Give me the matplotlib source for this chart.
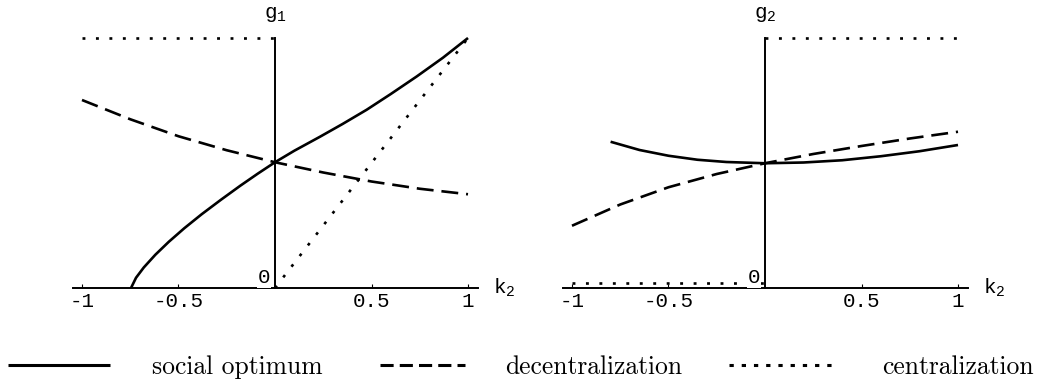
import matplotlib
matplotlib.use("Agg")
import matplotlib.pyplot as plt
from matplotlib.lines import Line2D

plt.rcParams['mathtext.fontset'] = 'custom'
plt.rcParams['mathtext.rm'] = 'Liberation Mono'
plt.rcParams['mathtext.tt'] = 'Liberation Mono'
plt.rcParams['mathtext.it'] = 'Liberation Mono'
plt.rcParams['axes.unicode_minus'] = False

# ---------------- data ----------------
tick_vals = [-1, -0.5, 0.5, 1]
tick_labels = ['-1', '-0.5', '0.5', '1']

# left panel: g1 vs k2
k1_social = [-0.746, -0.72, -0.68, -0.62, -0.55, -0.47, -0.38, -0.28, -0.18, -0.09, 0.0,
             0.10, 0.233, 0.35, 0.475, 0.60, 0.734, 0.87, 1.0]
g1_social = [0.0, 0.041, 0.082, 0.133, 0.185, 0.239, 0.295, 0.353, 0.409, 0.457, 0.503,
             0.549, 0.605, 0.656, 0.713, 0.776, 0.846, 0.921, 1.0]
k1_decent = [-1, -0.75, -0.5, -0.25, 0, 0.25, 0.5, 0.75, 1]
g1_decent = [0.752, 0.675, 0.607, 0.551, 0.503, 0.462, 0.426, 0.397, 0.375]
k1_cent_a = [-1, 0]
g1_cent_a = [1, 1]
k1_cent_b = [0, 1]
g1_cent_b = [0, 1]

# right panel: g2 vs k2
k2_social = [-0.80, -0.65, -0.5, -0.35, -0.2, 0, 0.2, 0.4, 0.6, 0.8, 1.0]
g2_social = [0.585, 0.552, 0.529, 0.513, 0.504, 0.499, 0.502, 0.511, 0.527, 0.547, 0.572]
k2_decent = [-1, -0.75, -0.5, -0.25, 0, 0.25, 0.5, 0.75, 1]
g2_decent = [0.249, 0.334, 0.403, 0.456, 0.499, 0.536, 0.568, 0.598, 0.625]
k2_cent_a = [-1, 0]
g2_cent_a = [0.02, 0.02]
k2_cent_b = [0, 1]
g2_cent_b = [1, 1]

legend_labels = ['social optimum', 'decentralization', 'centralization']

# ---------------- styles ----------------
LW = 1.9
DASH = (0, (6.4, 3.0))
DOT = (0, (1.1, 4.0))
TICK_FONT = {'family': 'Liberation Mono', 'size': 15}

fig = plt.figure(figsize=(10.37, 3.8), dpi=100)
W, H = 1037.0, 380.0
bottom = (H - 288) / H
height = 250 / H
axL = fig.add_axes([73 / W, bottom, 405 / W, height])
axR = fig.add_axes([563 / W, bottom, 405 / W, height])

panels = [
    (axL, k1_social, g1_social, k1_decent, g1_decent,
     [(k1_cent_a, g1_cent_a), (k1_cent_b, g1_cent_b)], r'$\mathrm{g}_{\mathrm{1}}$'),
    (axR, k2_social, g2_social, k2_decent, g2_decent,
     [(k2_cent_a, g2_cent_a), (k2_cent_b, g2_cent_b)], r'$\mathrm{g}_{\mathrm{2}}$'),
]

for ax, ks, gs, kd, gd, cents, ylab in panels:
    ax.set_xlim(-1.0466, 1.0518)
    ax.set_ylim(0, 1)
    ax.patch.set_visible(False)
    for s in ['top', 'right']:
        ax.spines[s].set_visible(False)
    ax.spines['left'].set_position(('data', 0))
    ax.spines['left'].set_linewidth(1.4)
    ax.spines['bottom'].set_linewidth(1.4)
    ax.set_yticks([])
    ax.set_xticks(tick_vals)
    ax.set_xticklabels(tick_labels, fontdict=TICK_FONT)
    ax.tick_params(axis='x', direction='in', length=3, width=0.8, pad=3)

    ax.plot(ks, gs, color='black', lw=LW, solid_capstyle='butt',
            solid_joinstyle='round', clip_on=False)
    ax.plot(kd, gd, color='black', lw=LW, linestyle=DASH, dash_capstyle='butt', clip_on=False)
    for kc, gc in cents:
        ax.plot(kc, gc, color='black', lw=LW, linestyle=DOT, dash_capstyle='butt', clip_on=False)

    ax.annotate('0', xy=(0, 0), xytext=(-3.5, 0.5), textcoords='offset points',
                ha='right', va='bottom', fontfamily='Liberation Mono', fontsize=15,
                bbox=dict(facecolor='white', edgecolor='none', pad=0.3), zorder=5)
    ax.annotate(ylab, xy=(0, 1), xytext=(0, 10), textcoords='offset points',
                ha='center', va='bottom', fontsize=15, annotation_clip=False)
    ax.annotate(r'$\mathrm{k}_{\mathrm{2}}$', xy=(1, 0), xycoords='axes fraction',
                xytext=(11, 0), textcoords='offset points',
                ha='left', va='center', fontsize=15, annotation_clip=False)

# ---------------- legend ----------------
h_solid = Line2D([], [], color='black', lw=2.2, solid_capstyle='butt')
h_dash = Line2D([], [], color='black', lw=2.2, linestyle=(0, (4.3, 2.0)), dash_capstyle='butt')
h_dot = Line2D([], [], color='black', lw=2.2, linestyle=(0, (1.4, 2.6)), dash_capstyle='butt')

leg_specs = [
    (h_solid, legend_labels[0], 8, 4.0, 1.65),
    (h_dash, legend_labels[1], 380, 3.33, 1.57),
    (h_dot, legend_labels[2], 729, 4.16, 1.84),
]
yc = (H - 367) / H
for h, lab, xpx, hl, htp in leg_specs:
    fig.legend(handles=[h], labels=[lab], loc='center left',
               bbox_to_anchor=(xpx / W, yc), frameon=False, borderpad=0,
               borderaxespad=0, handlelength=hl, handletextpad=htp,
               prop={'family': 'cmr10', 'size': 18.4})

fig.savefig('out.png', dpi=100, facecolor='white')
